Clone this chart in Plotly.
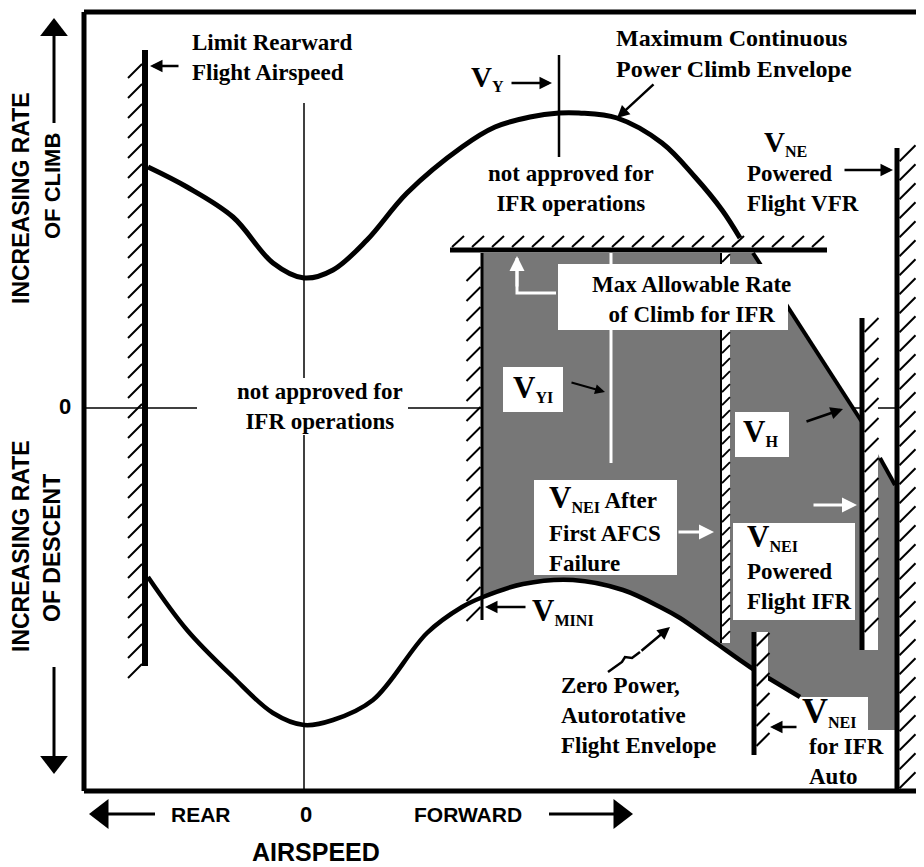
import numpy as np
import plotly.graph_objects as go

SERIF = "Liberation Serif, Times New Roman, serif"
SANS = "Liberation Sans, Arial, Helvetica, sans-serif"

# ---------------- data ----------------
# x: airspeed relative to zero airspeed (rear < 0 < forward)
# y: rate, positive = increasing rate of descent, negative = rate of climb
climb_x = [-156, -117, -71, -31, 0, 29, 63, 103, 158, 191, 226, 255, 275, 313, 358, 391, 418, 436]
climb_y = [-241, -221, -191, -145, -130, -138, -168, -215, -261, -281, -291, -295, -295, -290, -265, -231, -198, -170]

auto_x = [-156, -117, -71, -31, 0, 29, 69, 123, 158, 179, 219, 269, 319, 358, 376, 409, 446, 466, 496]
auto_y = [169, 222, 269, 305, 317, 312, 292, 225, 199, 189, 176, 172, 182, 200, 210, 233, 259, 271, 289]

# IFR envelope outline (upper / right edges), closed along the autorotation curve
ifr_edge_x = [179, 449, 558, 576, 591, 591, 564, 564, 496]
ifr_edge_y = [-155, -155, 14, 50, 77, 322, 322, 289, 289]

ceiling_rate = -158           # max allowable rate of climb for IFR
ceiling_span = [146, 523]

wall_speed = [-159, 178, 417, 558, 450, 593]    # rear limit, VMINI, VNEI AFCS, VNEI pwr, VNEI auto, VNE
wall_top = [-358, -155, -155, -90, 224, -260]
wall_bottom = [258, 212, 235, 242, 347, 383]

vy_speed, vy_span = 255, [-353, -251]
vyi_speed, vyi_span = 307, [-155, 55]
diag_x = [449, 558]
diag_y = [-155, 14]
spike_x = [576, 591]
spike_y = [50, 77]
squiggle_x = [304, 318, 321, 328, 336]
squiggle_y = [264, 254, 249, 250, 244]

# ---------------- styles ----------------
wall_side = ["left", "left", "right", "right", "right", "right"]
wall_lw = [6, 3, 2, 5, 5, 5]
wall_strip = [0, 0, 9, 16, 14, 0]
hatch_len = [14, 14, 8, 14, 13, 16]
hatch_gap = [20, 20, 13, 20, 20, 19]
GREY = "#777777"

fig = go.Figure()


def line(xs, ys, width, color="black", shape="linear", fill=None, fillcolor=None):
    fig.add_trace(go.Scatter(x=xs, y=ys, mode="lines",
                             line=dict(color=color, width=width, shape=shape),
                             fill=fill, fillcolor=fillcolor,
                             hoverinfo="skip", showlegend=False))


# grey IFR envelope
sel = [i for i, v in enumerate(auto_x) if ifr_edge_x[0] <= v <= ifr_edge_x[-1]]
poly_x = ifr_edge_x + [auto_x[i] for i in reversed(sel)]
poly_y = ifr_edge_y + [auto_y[i] for i in reversed(sel)]
line(poly_x, poly_y, 0, color=GREY, fill="toself", fillcolor=GREY)

# envelopes
line(climb_x, climb_y, 5, shape="spline")
line(auto_x, auto_y, 4.5, shape="spline")

# white strips behind hatching
for i in range(len(wall_speed)):
    if wall_strip[i]:
        x0 = wall_speed[i]
        x1 = x0 + wall_strip[i]
        line([x0, x1, x1, x0, x0], [wall_top[i], wall_top[i], wall_bottom[i], wall_bottom[i], wall_top[i]],
             0, color="white", fill="toself", fillcolor="white")

# hatching
hx, hy = [], []
for i in range(len(wall_speed)):
    x = wall_speed[i]
    off = wall_lw[i] / 2
    L = hatch_len[i]
    for yy in np.arange(wall_top[i] + hatch_gap[i] * 0.7, wall_bottom[i], hatch_gap[i]):
        if wall_side[i] == "left":
            hx += [x - off - L, x - off, None]
            hy += [yy + L, yy, None]
        else:
            hx += [x + off, x + off + L, None]
            hy += [yy, yy - L, None]
for xx in np.arange(ceiling_span[0] + 2, ceiling_span[1] - 6, 20):
    hx += [xx, xx + 12, None]
    hy += [ceiling_rate - 3, ceiling_rate - 14, None]
line(hx, hy, 2)

# walls and ceiling
for i in range(len(wall_speed)):
    line([wall_speed[i], wall_speed[i]], [wall_top[i], wall_bottom[i]], wall_lw[i])
line(ceiling_span, [ceiling_rate, ceiling_rate], 5)
line(diag_x, diag_y, 4)
line(spike_x, spike_y, 4)
line([vy_speed, vy_speed], vy_span, 2.5)
line([vyi_speed, vyi_speed], vyi_span, 3, color="white")
line([213, 213, 252], [-150, -115, -115], 3, color="white")
line(squiggle_x, squiggle_y, 2.5)

# big axis arrow heads
fig.add_trace(go.Scatter(x=[-202, 316], y=[406, 406], mode="markers",
                         marker=dict(symbol=["triangle-left", "triangle-right"], size=26, color="black"),
                         hoverinfo="skip", showlegend=False))
fig.add_trace(go.Scatter(x=[-250, -250], y=[-378, 354], mode="markers",
                         marker=dict(symbol=["triangle-up", "triangle-down"], size=24, color="black"),
                         hoverinfo="skip", showlegend=False))
line([-149, -200], [406, 406], 3)
line([245, 318], [406, 406], 3)
line([-250, -250], [-285, -376], 3)
line([-250, -250], [259, 352], 3)

shapes = []
# zero reference lines
shapes.append(dict(type="line", x0=-220, x1=593, y0=0, y1=0, line=dict(color="black", width=1.5), layer="below"))
shapes.append(dict(type="line", x0=0, x1=0, y0=-305, y1=383, line=dict(color="black", width=1.5), layer="below"))
shapes.append(dict(type="rect", x0=-107, x1=104, y0=-30, y1=27, fillcolor="white", line=dict(width=0), layer="below"))
# label boxes
for (x0, x1, y0, y1) in [(254, 484, -144, -78), (199, 259, -41, 4), (431, 485, 4, 49),
                         (230, 373, 72, 167), (429, 551, 115, 212)]:
    shapes.append(dict(type="rect", x0=x0, x1=x1, y0=y0, y1=y1, fillcolor="white",
                       line=dict(width=0), layer="above"))
# frame
for (x0, y0, x1, y1) in [(-220, -396, 620, -396), (-220, -396, -220, 383), (-220, 383, 620, 383)]:
    shapes.append(dict(type="line", x0=x0, y0=y0, x1=x1, y1=y1, line=dict(color="black", width=5), layer="above"))

ann = []


def text(x, y, t, size=23, xanchor="left", family=SERIF, angle=0):
    ann.append(dict(x=x, y=y, text=t, showarrow=False, xanchor=xanchor, yanchor="middle",
                    align=xanchor if xanchor != "center" else "center",
                    textangle=angle, font=dict(family=family, size=size, color="black")))


def arrow(hx_, hy_, tx, ty, color="black", width=2.5):
    ann.append(dict(x=hx_, y=hy_, ax=tx, ay=ty, axref="x", ayref="y", xref="x", yref="y",
                    text="", showarrow=True, arrowhead=2, arrowsize=1, arrowwidth=width,
                    arrowcolor=color, standoff=0))


def V(sub, size=30):
    return "<span style='font-size:%dpx'>V</span><sub>%s</sub>" % (size, sub)


text(-114, -351, "<b>Limit Rearward<br>Flight Airspeed</b>")
arrow(-154, -342, -124, -342)
text(310, -355, "<b>Maximum Continuous<br>Power Climb Envelope</b>", size=24)
arrow(313, -290, 351, -325)
text(165, -330, "<b>" + V("Y", 29) + "</b>")
arrow(248, -325, 206, -325)
text(267, -220, "<b>not approved for<br>IFR operations</b>", xanchor="center")
text(458, -265, "<b>" + V("NE", 29) + "</b>")
text(441, -220, "<b>Powered<br>Flight VFR</b>")
arrow(589, -238, 539, -238)
text(16, -2, "<b>not approved for<br>IFR operations</b>", xanchor="center")
text(387, -109, "<b>Max Allowable Rate<br>of Climb for IFR</b>", xanchor="center")
text(229, -20, "<b>" + V("YI", 31) + "</b>", xanchor="center")
arrow(301, -16, 266, -26, width=2)
text(456, 24, "<b>" + V("H", 31) + "</b>", xanchor="center")
arrow(539, 1, 501, 14)
text(243, 90, "<b>" + V("NEI", 31) + " After</b>")
text(243, 140, "<b>First AFCS<br>Failure</b>")
arrow(410, 124, 373, 124, color="white", width=3)
text(441, 129, "<b>" + V("NEI", 31) + "</b>")
text(441, 178, "<b>Powered<br>Flight IFR</b>")
arrow(553, 97, 508, 97, color="white", width=3)
text(226, 203, "<b>" + V("MINI", 31) + "</b>")
arrow(181, 199, 223, 199)
text(255, 307, "<b>Zero Power,<br>Autorotative<br>Flight Envelope</b>")
arrow(366, 219, 336, 244)
text(496, 303, "<b>" + V("NEI", 36) + "</b>")
text(503, 353, "<b>for IFR<br>Auto</b>")
arrow(466, 319, 494, 319)
arrow(213, -152, 213, -120, color="white", width=3)

# axis texts
text(2, 406, "<b>0</b>", size=22, xanchor="center", family=SANS)
text(-103, 406, "<b>REAR</b>", size=21, xanchor="center", family=SANS)
text(164, 406, "<b>FORWARD</b>", size=21, xanchor="center", family=SANS)
text(12, 444, "<b>AIRSPEED</b>", size=25, xanchor="center", family=SANS)
text(-239, -2, "<b>0</b>", size=22, xanchor="center", family=SANS)
text(-283, -210, "<b>INCREASING RATE</b>", size=23, xanchor="center", family=SANS, angle=-90)
text(-252, -222, "<b>OF CLIMB</b>", size=22, xanchor="center", family=SANS, angle=-90)
text(-283, 138, "<b>INCREASING RATE</b>", size=23, xanchor="center", family=SANS, angle=-90)
text(-252, 140, "<b>OF DESCENT</b>", size=23, xanchor="center", family=SANS, angle=-90)

# page body has an 8px margin: size and range the figure so 1 unit = 1 px
fig.update_layout(width=916, height=859, margin=dict(l=0, r=0, t=0, b=0),
                  paper_bgcolor="white", plot_bgcolor="white",
                  xaxis=dict(range=[-296, 620], visible=False),
                  yaxis=dict(range=[459, -400], visible=False),
                  shapes=shapes, annotations=ann, showlegend=False)
fig.write_html("out.html")
